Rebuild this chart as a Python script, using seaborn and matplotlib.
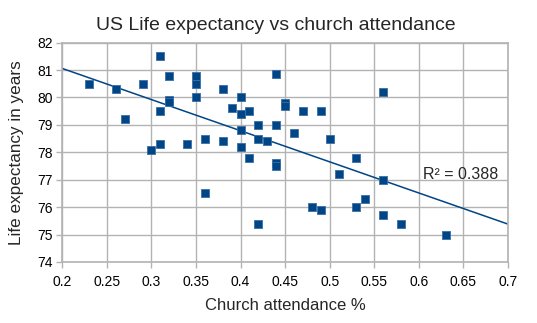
import matplotlib
matplotlib.use("Agg")
import matplotlib.pyplot as plt
import seaborn as sns
import pandas as pd

attendance = [0.23, 0.26, 0.27, 0.29, 0.30, 0.31, 0.31, 0.31, 0.32, 0.32, 0.32,
              0.34, 0.35, 0.35, 0.35, 0.36, 0.36, 0.38, 0.38, 0.39, 0.40, 0.40,
              0.40, 0.40, 0.41, 0.41, 0.42, 0.42, 0.42, 0.43, 0.44, 0.44, 0.44,
              0.44, 0.45, 0.45, 0.46, 0.47, 0.48, 0.49, 0.49, 0.50, 0.51, 0.53,
              0.53, 0.54, 0.56, 0.56, 0.56, 0.58, 0.63]
life_exp = [80.5, 80.3, 79.2, 80.5, 78.1, 81.5, 79.5, 78.3, 80.8, 79.9, 79.85,
            78.3, 80.8, 80.5, 80.0, 78.5, 76.5, 80.3, 78.4, 79.6, 80.0, 79.4,
            78.8, 78.2, 79.5, 77.8, 79.0, 78.5, 75.4, 78.4, 80.85, 79.0, 77.6,
            77.5, 79.8, 79.7, 78.7, 79.5, 76.0, 79.5, 75.9, 78.5, 77.2, 77.8,
            76.0, 76.3, 80.2, 77.0, 75.7, 75.4, 75.0]
x_ticks = [0.2, 0.25, 0.3, 0.35, 0.4, 0.45, 0.5, 0.55, 0.6, 0.65, 0.7]
x_tick_labels = ["0.2", "0.25", "0.3", "0.35", "0.4", "0.45", "0.5", "0.55", "0.6", "0.65", "0.7"]
y_ticks = [74, 75, 76, 77, 78, 79, 80, 81, 82]
r2_label = "R² = 0.388"

df = pd.DataFrame({"Church attendance %": attendance, "Life expectancy in years": life_exp})

sns.set_theme(style="whitegrid")
plt.rcParams['font.family'] = ['Liberation Sans', 'DejaVu Sans']

fig = plt.figure(figsize=(5.37, 3.23), dpi=100)
ax = fig.add_axes([0.116, 0.189, 0.830, 0.679])
ax.set_xlim(0.2, 0.7)
ax.set_ylim(74, 82)

sns.scatterplot(data=df, x="Church attendance %", y="Life expectancy in years", ax=ax,
                marker="s", s=34, color="#004586", edgecolor="#3a6fa6", linewidth=0.6, zorder=3)
sns.regplot(data=df, x="Church attendance %", y="Life expectancy in years", ax=ax,
            scatter=False, ci=None, truncate=False,
            line_kws={"color": "#004586", "linewidth": 1.1, "zorder": 2})
ax.set_xlim(0.2, 0.7)
ax.set_ylim(74, 82)

ax.set_xticks(x_ticks)
ax.set_xticklabels(x_tick_labels)
ax.set_yticks(y_ticks)

ax.grid(True, color="#b3b3b3", linewidth=1.0)
for sp in ax.spines.values():
    sp.set_color("#b3b3b3")
    sp.set_linewidth(1.2)
ax.tick_params(axis="both", which="both", length=4, color="#b3b3b3", width=1,
               labelsize=10, labelcolor="black", bottom=True, left=True)
ax.tick_params(axis="x", pad=5.5)
ax.tick_params(axis="y", pad=3)

ax.set_title("US Life expectancy vs church attendance", fontsize=14, pad=9, x=0.478)
ax.set_xlabel("Church attendance %", fontsize=12, labelpad=6.5)
ax.set_ylabel("Life expectancy in years", fontsize=12.3, labelpad=9)

ax.text(0.605, 77.2, r2_label, fontsize=11.5, va="center", ha="left")

fig.savefig("out.png", dpi=100)
